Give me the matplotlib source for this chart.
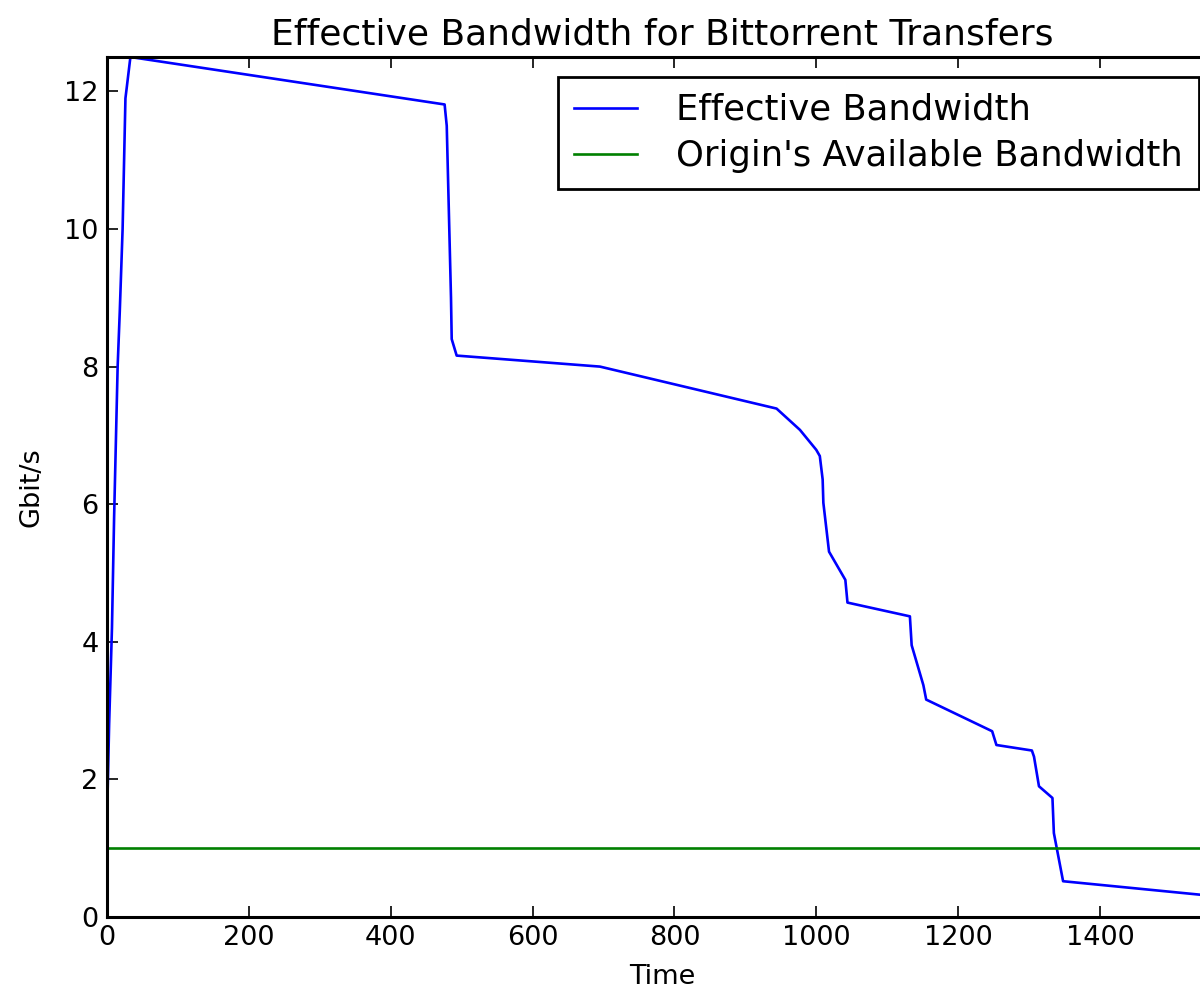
import matplotlib
matplotlib.use("Agg")
import matplotlib.pyplot as plt

# Data
time = [0, 3, 7, 10, 15, 18, 22, 26, 28, 33,
        476, 479, 485, 486, 493, 695, 944, 977, 1000, 1005,
        1009, 1010, 1018, 1041, 1044, 1132, 1134.5, 1151, 1155, 1248,
        1254, 1304, 1307, 1314, 1333, 1335, 1348, 1565]
bandwidth = [1.4, 2.8, 4.2, 5.8, 8.0, 8.8, 10.0, 11.9, 12.07, 12.5,
             11.81, 11.5, 9.0, 8.4, 8.16, 8.0, 7.39, 7.08, 6.79, 6.7,
             6.36, 6.02, 5.31, 4.9, 4.57, 4.37, 3.95, 3.37, 3.16, 2.70,
             2.50, 2.42, 2.33, 1.90, 1.73, 1.22, 0.52, 0.30]
origin_bw = 1.0

x_ticks = [0, 200, 400, 600, 800, 1000, 1200, 1400]
y_ticks = [0, 2, 4, 6, 8, 10, 12]

W, H, DPI = 1200, 990, 100
fig = plt.figure(figsize=(W / DPI, H / DPI), dpi=DPI)
left, right, bottom, top = 107, 1217, 917, 57
ax = fig.add_axes([left / W, 1 - bottom / H, (right - left) / W, (bottom - top) / H])

ax.plot(time, bandwidth, color=(0, 0, 1), lw=1.9, label="Effective Bandwidth")
ax.axhline(origin_bw, color=(0, 0.5, 0), lw=1.9, label="Origin's Available Bandwidth")

ax.set_xlim(0, 1565)
ax.set_ylim(0, 12.5)
ax.set_xticks(x_ticks)
ax.set_yticks(y_ticks)
ax.tick_params(direction="in", length=8, width=1.2, labelsize=19.5, pad=6,
               top=True, right=True, colors="black")
for s in ax.spines.values():
    s.set_linewidth(2.2)

ax.set_title("Effective Bandwidth for Bittorrent Transfers", fontsize=26, pad=9)
ax.set_xlabel("Time", fontsize=19.5, labelpad=9)
ax.set_ylabel("Gbit/s", fontsize=19.5, labelpad=14)

leg = ax.legend(loc="upper right", bbox_to_anchor=(1199 / W, 1 - 77 / H),
                bbox_transform=fig.transFigure, borderaxespad=0,
                fontsize=25.5, fancybox=False, shadow=False, framealpha=1,
                handlelength=1.8, handletextpad=1.1, labelspacing=0.35,
                borderpad=0.45)
leg.get_frame().set_edgecolor("black")
leg.get_frame().set_linewidth(2.0)

fig.savefig("out.png", dpi=DPI)
